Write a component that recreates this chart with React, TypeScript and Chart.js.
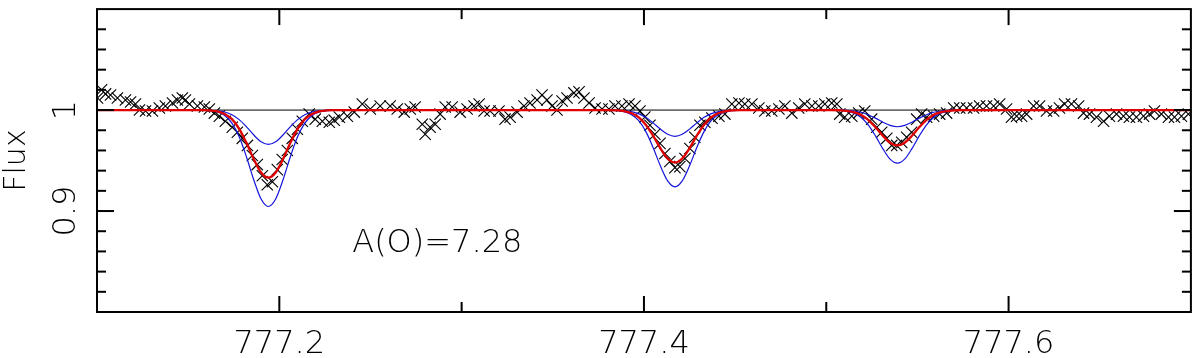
import React, { useEffect, useRef } from 'react';
import { Chart, registerables } from 'chart.js';

Chart.register(...registerables);

// ---------- data ----------
const obsWave = [
  777.1003, 777.1025, 777.1047, 777.1074, 777.1112, 777.1156, 777.1184, 777.1211, 777.1233, 777.1266,
  777.1304, 777.1342, 777.1375, 777.1414, 777.1441, 777.1468, 777.1485, 777.1507, 777.1551, 777.1589,
  777.1616, 777.1644, 777.1671, 777.1704, 777.1742, 777.1770, 777.1797, 777.1825, 777.1852, 777.1879,
  777.1907, 777.1934, 777.1962, 777.1989, 777.2016, 777.2044, 777.2071, 777.2099, 777.2126, 777.2164,
  777.2197, 777.2236, 777.2274, 777.2301, 777.2329, 777.2373, 777.2411, 777.2455, 777.2499, 777.2553,
  777.2608, 777.2647, 777.2685, 777.2718, 777.2745, 777.2784, 777.2800, 777.2827, 777.2855, 777.2882,
  777.2910, 777.2948, 777.2992, 777.3030, 777.3068, 777.3096, 777.3123, 777.3156, 777.3205, 777.3238,
  777.3266, 777.3304, 777.3342, 777.3375, 777.3414, 777.3441, 777.3468, 777.3496, 777.3523, 777.3551,
  777.3578, 777.3616, 777.3644, 777.3671, 777.3699, 777.3732, 777.3770, 777.3808, 777.3841, 777.3879,
  777.3918, 777.3951, 777.3978, 777.4005, 777.4033, 777.4060, 777.4088, 777.4115, 777.4142, 777.4170,
  777.4197, 777.4225, 777.4252, 777.4279, 777.4307, 777.4334, 777.4373, 777.4411, 777.4444, 777.4482,
  777.4521, 777.4553, 777.4592, 777.4630, 777.4663, 777.4701, 777.4740, 777.4773, 777.4811, 777.4849,
  777.4882, 777.4921, 777.4959, 777.4992, 777.5030, 777.5058, 777.5074, 777.5101, 777.5140, 777.5178,
  777.5211, 777.5249, 777.5277, 777.5304, 777.5332, 777.5359, 777.5386, 777.5414, 777.5441, 777.5468,
  777.5496, 777.5523, 777.5551, 777.5589, 777.5622, 777.5660, 777.5699, 777.5732, 777.5770, 777.5808,
  777.5841, 777.5879, 777.5918, 777.5951, 777.5989, 777.6016, 777.6044, 777.6071, 777.6099, 777.6137,
  777.6170, 777.6208, 777.6247, 777.6279, 777.6307, 777.6345, 777.6384, 777.6411, 777.6444, 777.6482,
  777.6521, 777.6553, 777.6592, 777.6630, 777.6663, 777.6701, 777.6740, 777.6773, 777.6800, 777.6838,
  777.6877, 777.6910, 777.6948, 777.6986,
];
const obsFlux = [
  1.012, 1.020, 1.016, 1.015, 1.012, 1.010, 1.008, 1.006, 1.000, 0.999,
  0.999, 1.002, 1.004, 1.007, 1.010, 1.012, 1.010, 1.006, 1.004, 1.003,
  1.001, 0.997, 0.994, 0.989, 0.983, 0.978, 0.972, 0.965, 0.955, 0.946,
  0.935, 0.926, 0.929, 0.941, 0.951, 0.960, 0.972, 0.981, 0.989, 0.996,
  0.991, 0.989, 0.988, 0.990, 0.993, 0.994, 0.998, 1.006, 1.001, 1.004,
  1.004, 1.001, 0.998, 1.001, 1.003, 0.986, 0.976, 0.983, 0.986, 0.996,
  1.003, 1.003, 0.998, 1.001, 1.004, 1.006, 0.999, 0.999, 0.999, 0.991,
  0.993, 0.998, 1.004, 1.007, 1.010, 1.015, 1.010, 1.004, 1.000, 1.009,
  1.012, 1.017, 1.018, 1.012, 1.007, 1.002, 1.001, 1.001, 1.004, 1.004,
  1.006, 1.004, 0.999, 0.993, 0.985, 0.976, 0.967, 0.957, 0.949, 0.943,
  0.944, 0.952, 0.962, 0.973, 0.985, 0.988, 0.992, 0.994, 0.996, 1.006,
  1.007, 1.006, 1.006, 1.002, 0.999, 0.999, 1.001, 1.004, 0.997, 1.002,
  1.006, 1.004, 1.004, 1.006, 1.007, 1.006, 0.996, 0.993, 0.994, 0.997,
  0.999, 0.991, 0.983, 0.978, 0.972, 0.965, 0.965, 0.968, 0.973, 0.978,
  0.991, 0.996, 0.993, 0.994, 0.996, 0.997, 1.002, 1.002, 1.002, 1.002,
  1.004, 1.004, 1.004, 1.006, 1.001, 0.993, 0.994, 0.994, 0.996, 1.004,
  1.004, 0.999, 0.999, 1.002, 1.006, 1.006, 1.004, 0.997, 0.996, 0.993,
  0.989, 0.994, 0.996, 0.994, 0.993, 0.993, 0.994, 0.996, 0.999, 0.996,
  0.993, 0.993, 0.994, 0.996,
];

const modelWave = [
  777.100,
  777.158, 777.162, 777.166, 777.170, 777.174, 777.178, 777.182, 777.186, 777.190, 777.194,
  777.198, 777.202, 777.206, 777.210, 777.214, 777.218, 777.222, 777.226, 777.230,
  777.381, 777.385, 777.389, 777.393, 777.397, 777.401, 777.405, 777.409, 777.413, 777.417,
  777.421, 777.425, 777.429, 777.433, 777.437, 777.441, 777.445, 777.449, 777.453,
  777.503, 777.507, 777.511, 777.515, 777.519, 777.523, 777.527, 777.531, 777.535, 777.539,
  777.543, 777.547, 777.551, 777.555, 777.559, 777.563, 777.567, 777.571, 777.575,
  777.700,
];
const fitFlux = [
  1.0,
  0.9999, 0.9996, 0.9987, 0.9962, 0.9910, 0.9814, 0.9674, 0.9514, 0.9382, 0.9330,
  0.9382, 0.9514, 0.9674, 0.9814, 0.9910, 0.9962, 0.9987, 0.9996, 0.9999,
  0.9999, 0.9997, 0.9990, 0.9971, 0.9930, 0.9855, 0.9747, 0.9622, 0.9520, 0.9480,
  0.9520, 0.9622, 0.9747, 0.9855, 0.9930, 0.9971, 0.9990, 0.9997, 0.9999,
  1.0000, 0.9998, 0.9993, 0.9980, 0.9953, 0.9903, 0.9830, 0.9746, 0.9677, 0.9650,
  0.9677, 0.9746, 0.9830, 0.9903, 0.9953, 0.9980, 0.9993, 0.9998, 1.0000,
  1.0,
];
const upperFlux = [
  1.0,
  1.0000, 0.9998, 0.9993, 0.9981, 0.9954, 0.9905, 0.9834, 0.9753, 0.9686, 0.9660,
  0.9686, 0.9753, 0.9834, 0.9905, 0.9954, 0.9981, 0.9993, 0.9998, 1.0000,
  1.0000, 0.9998, 0.9995, 0.9985, 0.9965, 0.9928, 0.9873, 0.9811, 0.9760, 0.9740,
  0.9760, 0.9811, 0.9873, 0.9928, 0.9965, 0.9985, 0.9995, 0.9998, 1.0000,
  1.0000, 0.9999, 0.9997, 0.9991, 0.9978, 0.9954, 0.9920, 0.9880, 0.9848, 0.9835,
  0.9848, 0.9880, 0.9920, 0.9954, 0.9978, 0.9991, 0.9997, 0.9999, 1.0000,
  1.0,
];
const lowerFlux = [
  1.0,
  0.9999, 0.9994, 0.9981, 0.9947, 0.9871, 0.9735, 0.9535, 0.9307, 0.9119, 0.9045,
  0.9119, 0.9307, 0.9535, 0.9735, 0.9871, 0.9947, 0.9981, 0.9994, 0.9999,
  0.9999, 0.9995, 0.9985, 0.9957, 0.9897, 0.9789, 0.9630, 0.9448, 0.9299, 0.9240,
  0.9299, 0.9448, 0.9630, 0.9789, 0.9897, 0.9957, 0.9985, 0.9995, 0.9999,
  0.9999, 0.9997, 0.9990, 0.9971, 0.9929, 0.9854, 0.9744, 0.9618, 0.9514, 0.9474,
  0.9514, 0.9618, 0.9744, 0.9854, 0.9929, 0.9971, 0.9990, 0.9997, 0.9999,
  1.0,
];

const contWave = [777.1, 777.7];
const contFlux = [1.0, 1.0];

const xRange = [777.1, 777.7];
const yRange = [0.8, 1.1];
const xMajorTicks = [777.2, 777.4, 777.6];
const xMinorTicks = [777.3, 777.5];
const xTickLabels = ['777.2', '777.4', '777.6'];
const yMajorTicks = [0.9, 1.0];
const yMinorTicks = [0.82, 0.84, 0.86, 0.88, 0.92, 0.94, 0.96, 0.98, 1.02, 1.04, 1.06, 1.08];
const yTickLabels = ['0.9', '1'];
const yTitle = 'Flux';
const annotationText = 'A(O)=7.28';
const annotationAt = [777.24, 0.859];

// ---------- drawing ----------
const FONT = '300 32px "DejaVu Sans"';

const overlay = {
  id: 'overlay',
  afterDatasetsDraw(chart: any) {
    const { ctx, chartArea: a, scales } = chart;
    const x = scales.x;
    const y = scales.y;
    ctx.save();
    ctx.strokeStyle = '#000';
    ctx.lineWidth = 2;
    ctx.strokeRect(a.left, a.top, a.right - a.left, a.bottom - a.top);
    const seg = (x1: number, y1: number, x2: number, y2: number) => {
      ctx.beginPath();
      ctx.moveTo(x1, y1);
      ctx.lineTo(x2, y2);
      ctx.stroke();
    };
    xMajorTicks.forEach((v) => {
      const p = x.getPixelForValue(v);
      seg(p, a.bottom, p, a.bottom - 16);
      seg(p, a.top, p, a.top + 16);
    });
    xMinorTicks.forEach((v) => {
      const p = x.getPixelForValue(v);
      seg(p, a.bottom, p, a.bottom - 10);
      seg(p, a.top, p, a.top + 10);
    });
    yMajorTicks.forEach((v) => {
      const p = y.getPixelForValue(v);
      seg(a.left, p, a.left + 17, p);
      seg(a.right, p, a.right - 17, p);
    });
    yMinorTicks.forEach((v) => {
      const p = y.getPixelForValue(v);
      seg(a.left, p, a.left + 9, p);
      seg(a.right, p, a.right - 9, p);
    });

    ctx.fillStyle = '#000';
    ctx.font = FONT;
    ctx.textAlign = 'center';
    ctx.textBaseline = 'alphabetic';
    xTickLabels.forEach((t, i) => {
      ctx.fillText(t, x.getPixelForValue(xMajorTicks[i]), a.bottom + 41);
    });
    yTickLabels.forEach((t, i) => {
      ctx.save();
      ctx.translate(a.left - 22, y.getPixelForValue(yMajorTicks[i]));
      ctx.rotate(-Math.PI / 2);
      ctx.fillText(t, 0, 0);
      ctx.restore();
    });
    ctx.save();
    ctx.font = '300 30px "DejaVu Sans"';
    ctx.translate(25, (a.top + a.bottom) / 2);
    ctx.rotate(-Math.PI / 2);
    ctx.fillText(yTitle, 0, 0);
    ctx.restore();

    ctx.textAlign = 'left';
    ctx.fillText(annotationText, x.getPixelForValue(annotationAt[0]), y.getPixelForValue(annotationAt[1]));
    ctx.restore();
  },
};

const toXY = (xs: number[], ys: number[]) => xs.map((v, i) => ({ x: v, y: ys[i] }));

export default function App() {
  const ref = useRef<HTMLCanvasElement | null>(null);
  useEffect(() => {
    document.body.style.margin = '0';
    if (!ref.current) return;
    const chart = new Chart(ref.current, {
      type: 'line',
      data: {
        datasets: [
          {
            label: 'fit',
            data: toXY(modelWave, fitFlux),
            borderColor: '#e00000',
            borderWidth: 2.3,
            pointRadius: 0,
            cubicInterpolationMode: 'monotone',
            order: 0,
          },
          {
            label: 'upper',
            data: toXY(modelWave, upperFlux),
            borderColor: '#1414dc',
            borderWidth: 1.2,
            pointRadius: 0,
            cubicInterpolationMode: 'monotone',
            order: 1,
          },
          {
            label: 'lower',
            data: toXY(modelWave, lowerFlux),
            borderColor: '#1414dc',
            borderWidth: 1.2,
            pointRadius: 0,
            cubicInterpolationMode: 'monotone',
            order: 1,
          },
          {
            label: 'continuum',
            data: toXY(contWave, contFlux),
            borderColor: '#000',
            borderWidth: 1,
            pointRadius: 0,
            order: 2,
          },
          {
            label: 'observed',
            data: toXY(obsWave, obsFlux),
            showLine: false,
            pointStyle: 'crossRot',
            pointRadius: 8,
            pointBorderColor: '#000',
            pointBackgroundColor: '#000',
            pointBorderWidth: 1.1,
            order: 3,
          },
        ],
      } as any,
      options: {
        animation: false,
        responsive: true,
        maintainAspectRatio: false,
        layout: { padding: { top: 1, right: 3, left: 0, bottom: 0 } },
        plugins: { legend: { display: false }, tooltip: { enabled: false } },
        events: [],
        scales: {
          x: {
            type: 'linear',
            min: xRange[0],
            max: xRange[1],
            grid: { display: false },
            border: { display: false },
            ticks: { display: false },
            afterFit: (s: any) => {
              s.height = 46;
            },
          },
          y: {
            type: 'linear',
            min: yRange[0],
            max: yRange[1],
            grid: { display: false },
            border: { display: false },
            ticks: { display: false },
            afterFit: (s: any) => {
              s.width = 97;
            },
          },
        },
      } as any,
      plugins: [overlay],
    });
    return () => chart.destroy();
  }, []);
  return (
    <div style={{ width: 1200, height: 358, position: 'relative' }}>
      <canvas ref={ref} />
    </div>
  );
}
